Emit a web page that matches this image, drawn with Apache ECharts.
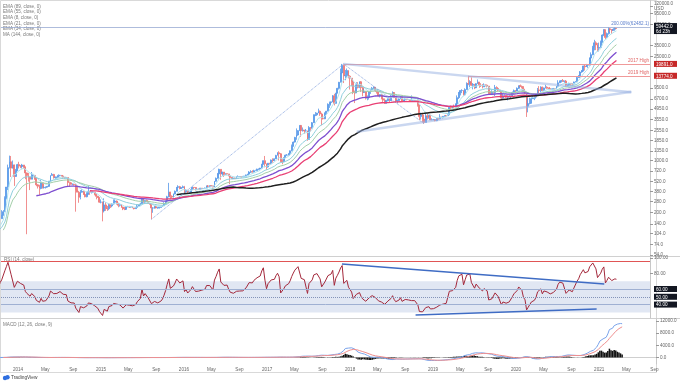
<!DOCTYPE html>
<html><head><meta charset="utf-8">
<script src="https://cdn.jsdelivr.net/npm/echarts@6/dist/echarts.min.js"></script>
<style>html,body{margin:0;padding:0;background:#fff}#c{width:680px;height:383px}</style>
</head><body><div id="c"></div>
<script>
// ---------------- DATA (weekly candles, BTCUSD, weeks starting Monday) ----------------
const firstWeek = '2013-03-11';
const firstOpen = 46;
const weeklyClose = [
47,71,93,162,90,127,134,115,115,122,133,122,100,100,103,94,70,95,90,95,104,104,100,110,130,122,126,123,127,122,133,165,187,205,310,440,800,960,790,870,610,735,880,
840,830,870,820,680,630,600,560,630,630,565,470,450,420,500,430,435,440,448,525,630,650,590,595,595,630,630,620,595,585,590,505,500,478,480,475,400,375,320,375,385,350,325,355,385,375,375,375,350,330,318,275,
275,210,253,226,225,258,245,260,275,285,265,250,255,236,223,220,240,240,236,240,230,225,233,245,250,260,310,275,290,281,265,260,230,230,240,230,231,234,238,246,262,285,325,375,330,322,355,385,435,445,420,430,
445,380,400,375,375,405,436,433,405,413,410,425,420,420,427,455,450,458,456,440,525,575,660,760,660,700,650,665,660,620,590,570,580,570,605,607,608,600,612,616,640,655,700,703,700,730,732,765,770,790,890,995,
905,820,920,915,1015,998,1055,1170,1270,1230,975,965,1090,1180,1180,1245,1350,1550,1770,2040,2200,2520,2960,2520,2560,2500,2500,1920,2770,2750,3220,4070,4110,4340,4590,4220,3680,3630,4390,4600,5700,6000,6150,7390,5860,8050,9330,11250,15050,19000,13800,13880,
16200,13600,12800,11500,8200,8080,10400,9600,11450,9550,8200,8450,6900,7030,8350,8900,9400,9650,8700,8500,7350,7700,6770,6480,5880,6350,6760,6350,7400,8200,7030,6300,6400,6700,7300,6250,6500,6700,6620,6590,6300,6400,6400,6400,6350,5600,3900,4100,3600,3250,3980,3850,4040,
3510,3530,3550,3430,3650,3620,3850,3820,3920,4000,3990,4100,5200,5070,5300,5220,5750,7000,8200,8730,8740,7640,8990,10850,10800,11480,10250,10600,9500,10800,11300,10300,10130,9760,10390,10300,10000,8070,7870,8280,8230,9550,9300,8800,8500,6900,7420,7510,7100,7150,7310,7350,
8180,8700,8600,9340,10150,9900,9670,8530,8040,5360,5830,5880,6780,6900,7120,7700,8900,8730,9670,8720,9450,9680,9340,9300,9000,9070,9270,9170,9930,11070,11680,11850,11650,11700,10250,10330,10920,10770,10670,11370,11370,13030,13800,15480,15970,18680,18180,19150,19150,23870,26500,33000,
38200,35800,32300,33100,38900,48700,57500,45200,50900,59000,57600,55800,58200,59800,59442
];
const weeklyHigh = [
48,75,95,165,266,130,160,145,125,125,135,138,124,110,112,106,94,100,100,98,108,108,110,124,131,138,132,130,130,130,136,167,215,215,330,440,880,1163,1150,1000,880,770,900,
960,870,900,870,830,690,680,600,700,650,630,590,480,470,550,510,450,445,455,530,630,680,660,610,605,650,640,630,625,600,595,590,520,515,490,480,480,440,390,400,410,390,360,375,460,390,385,385,375,355,335,320,
300,280,310,275,245,265,250,265,300,300,290,270,265,260,240,237,242,245,245,242,240,230,235,255,255,270,315,300,295,298,285,270,260,235,245,245,235,238,240,248,275,290,335,500,380,340,360,395,440,465,455,440,
460,455,410,395,380,408,445,440,440,420,420,428,425,425,432,460,467,460,465,458,530,590,680,775,760,705,700,675,670,660,620,600,585,590,615,630,612,610,615,620,645,660,720,740,740,750,750,775,775,795,900,1000,
1150,910,925,925,1030,1070,1060,1190,1295,1330,1260,1060,1100,1200,1220,1250,1360,1640,1800,2080,2700,2560,2980,2980,2780,2580,2650,2520,2900,2800,3290,4180,4480,4370,4980,4700,4390,4130,4400,4640,5860,6200,6200,7600,7880,8100,9480,11400,17200,19891,19200,16500,
17250,16300,14000,12200,11800,8700,11300,11300,11600,11700,9900,9180,8500,7500,8500,9000,9750,9950,9700,8880,8400,7770,7750,6920,6830,6550,6800,6800,7580,8500,8250,7150,6600,6900,7350,7400,6600,6800,6700,6680,6700,7500,6500,6500,6500,6420,5600,4400,4200,3600,4300,4200,4100,
4100,3700,3620,3520,3700,3680,4200,3900,3950,4050,4080,4150,5350,5470,5370,5650,5850,7500,8350,8800,9070,8800,9350,11250,13774,12000,13100,11000,10600,10900,12300,11400,10950,10640,10900,10500,10300,10050,8550,8800,8410,10370,9950,9500,8800,8500,7800,7730,7500,7500,7670,7500,
8460,9000,8740,9600,10160,10500,10200,9980,9200,8170,6900,6980,7050,7470,7300,7770,9450,10000,9950,9850,9590,10400,9960,9600,9750,9310,9450,9300,10040,12000,11900,12100,12450,11800,12080,10600,11100,10950,10950,11480,11740,13350,14100,15950,16480,18800,19480,19890,19400,24250,28400,34800,
41950,40100,37850,38500,40950,49700,58350,57500,52600,61780,60600,58400,60100,61300,60100
];
const weeklyLow = [
44,46,70,92,50,65,120,80,108,110,120,118,93,95,98,88,65,68,85,86,93,100,96,99,110,110,120,120,120,105,120,133,165,180,205,300,400,780,600,780,455,600,720,
780,790,780,780,560,102,520,400,560,600,550,450,420,340,410,420,420,420,435,440,520,630,570,560,560,590,610,610,590,570,575,440,440,475,465,460,205,375,270,300,370,345,320,320,345,345,360,365,340,300,315,270,
265,152,200,210,210,215,230,235,255,275,255,235,240,230,215,215,218,235,230,232,228,220,225,230,240,250,260,270,270,280,260,255,162,198,225,228,225,226,235,237,245,260,280,320,290,310,315,350,385,430,410,415,
425,360,370,365,365,370,400,405,395,400,405,405,410,415,420,425,440,440,448,435,440,520,570,660,550,620,600,640,645,615,480,565,565,565,568,600,600,590,598,605,610,630,650,680,690,690,720,725,750,765,785,880,
810,750,800,880,910,935,990,1045,1170,1000,940,890,950,1080,1160,1180,1245,1330,1540,1740,1900,2150,2500,2080,2450,2280,2450,1840,1900,2460,2680,3200,3950,3980,4330,3980,2980,3560,3600,4200,4600,5100,5470,6100,5500,5900,8000,9000,11250,15000,11000,12000,
12800,12700,9000,10000,7800,5920,8100,9300,9400,8350,7300,8200,6600,6450,6600,7860,8700,9100,8350,7940,7230,7050,6650,6120,5750,5790,6250,6080,6320,7350,6900,5970,5880,6250,6650,6150,6150,6100,6450,6450,6150,6350,6350,6300,6280,5300,3500,3550,3250,3122,3250,3550,3650,
3480,3480,3470,3370,3380,3560,3600,3750,3680,3850,3900,3960,4100,4950,5020,5050,5180,5700,6700,7500,8050,7450,7540,8980,10300,9650,10100,9050,9100,9400,11000,9480,9750,9320,9780,9900,9600,7710,7770,7790,7900,7300,8980,8600,8330,6550,6800,7250,7000,6430,7100,6860,
7350,8100,8300,8570,9150,9720,9300,8400,7900,3850,4440,5670,5850,6780,6480,6800,7670,8100,8200,8700,8630,9300,9240,9170,8850,8950,9060,9000,9100,9900,11000,11200,11400,11100,9850,9880,10200,10140,10400,10540,11200,11400,12900,13200,15100,15780,16200,18100,17600,19000,21800,26000,
30300,30500,28800,29250,33400,37950,47000,43000,45000,49300,53300,50400,55800,55500,59300
];

// axis tick labels
const priceTickValues = [120000,95000,67000,35000,25000,9500,6700,4950,3550,2550,1850,1350,1000,720,520,380,280,200,140,104,74,54];
const lastPrice = 59442.0;
const lastCountdown = '6d 23h';
const high2017 = 19891.0;
const high2019 = 13774.0;
const fibLevel = 62482.1;
const rsiTickValues = [100, 80];
const rsiLevels = [60, 50, 40];
const macdTickValues = [0, 4000, 8000, 12000];
const xTickDates = ['2014-01-01','2014-05-01','2014-09-01','2015-01-01','2015-05-01','2015-09-01','2016-01-01','2016-05-01','2016-09-01','2017-01-01','2017-05-01','2017-09-01','2018-01-01','2018-05-01','2018-09-01','2019-01-01','2019-05-01','2019-09-01','2020-01-01','2020-05-01','2020-09-01','2021-01-01','2021-05-01','2021-09-01'];
const xTickLabels = ['2014','May','Sep','2015','May','Sep','2016','May','Sep','2017','May','Sep','2018','May','Sep','2019','May','Sep','2020','May','Sep','2021','May','Sep'];

// drawings (anchor dates / values)
const fibPoints = [['2015-08-17', 162], ['2017-12-17', 19891], ['2018-12-10', 3122]];
const wedgeUpper = [['2017-12-17', 19891], ['2021-06-17', 8264]];
const wedgeLower = [['2018-02-14', 2439], ['2021-06-17', 8390]];
const high2017Start = '2017-12-17';
const high2019Start = '2019-06-26';
const rsiTopLine = 95.5;
const rsiDownTrend = [['2017-12-10', 92], ['2021-02-17', 66.4]];
const rsiUpTrend = [['2018-11-02', 26.7], ['2021-01-14', 34.4]];
const legendNames = ['EMA (89, close, 0)','EMA (55, close, 0)','EMA (8, close, 0)','EMA (21, close, 0)','EMA (34, close, 0)','MA (144, close, 0)'];

// ---------------- BUILD ----------------
const ts = s => new Date(s + 'T00:00:00').getTime();
const tMin = ts('2013-10-18'), tMax = ts('2021-09-08');
const t0 = ts(firstWeek);
const N = weeklyClose.length;
const times = [], opens = [], highs = [], lows = [];
for (let i = 0; i < N; i++) {
  times.push(t0 + i * 7 * 86400000);
  const o = i === 0 ? firstOpen : weeklyClose[i - 1];
  opens.push(o);
  highs.push(Math.max(weeklyHigh[i], o, weeklyClose[i]));
  lows.push(Math.min(weeklyLow[i], o, weeklyClose[i]));
}
function ema(src, len) {
  const out = new Array(src.length).fill(null);
  let start = src.findIndex(v => v != null);
  let prev = null, sum = 0;
  for (let i = start; i < src.length; i++) {
    const k = i - start;
    if (k < len - 1) { sum += src[i]; continue; }
    if (k === len - 1) { sum += src[i]; prev = sum / len; out[i] = prev; continue; }
    prev = (src[i] - prev) * 2 / (len + 1) + prev; out[i] = prev;
  }
  return out;
}
function sma(src, len) {
  const out = new Array(src.length).fill(null);
  for (let i = len - 1; i < src.length; i++) { let s = 0; for (let j = i - len + 1; j <= i; j++) s += src[j]; out[i] = s / len; }
  return out;
}
function rsi(src, len) {
  const out = new Array(src.length).fill(null);
  let up = 0, dn = 0;
  for (let i = 1; i < src.length; i++) {
    const ch = src[i] - src[i - 1];
    const u = Math.max(ch, 0), d = Math.max(-ch, 0);
    if (i < len) { up += u; dn += d; continue; }
    if (i === len) { up = (up + u) / len; dn = (dn + d) / len; }
    else { up = (up * (len - 1) + u) / len; dn = (dn * (len - 1) + d) / len; }
    out[i] = dn === 0 ? 100 : 100 - 100 / (1 + up / dn);
  }
  return out;
}
const toLine = arr => arr.map((v, i) => v == null ? null : [times[i], v]).filter(Boolean);
const ema8 = ema(weeklyClose, 8), ema21 = ema(weeklyClose, 21), ema34 = ema(weeklyClose, 34);
const ema55 = ema(weeklyClose, 55), ema89 = ema(weeklyClose, 89), ma144 = sma(weeklyClose, 144);
const rsi14 = rsi(weeklyClose, 14);
const e12 = ema(weeklyClose, 12), e26 = ema(weeklyClose, 26);
const macd = e12.map((v, i) => (v == null || e26[i] == null) ? null : v - e26[i]);
const signal = ema(macd, 9);
const hist = macd.map((v, i) => (v == null || signal[i] == null) ? null : v - signal[i]);

const candles = times.map((t, i) => [t, opens[i], weeklyClose[i], lows[i], highs[i]]);
const FONT = 'Liberation Sans';
const FS = 4.6;
const xTickTimes = xTickDates.map(ts);

const pt = p => ({ coord: [ts(p[0]), p[1]] });
const seg = (a, b, style, label) => [Object.assign(pt(a), { lineStyle: style, label: label || { show: false } }), pt(b)];

const triStyle = { color: 'rgba(150,175,225,0.5)', width: 2.4, type: 'solid' };
const fibStyle = { color: '#7e9ddb', width: 0.9, type: 'dotted' };
const highStyle = { color: '#f09a9a', width: 1, type: 'solid' };
const smallLbl = (txt, color) => ({ show: true, position: 'insideEndTop', formatter: txt, color: color, fontSize: FS, fontFamily: FONT, distance: [1, 1] });

const boxW = 20;
const rich = {
  k: { backgroundColor: '#131722', color: '#fff', fontSize: FS, fontFamily: FONT, padding: [1, 1, 0, 2], width: boxW, lineHeight: 5 },
  r: { backgroundColor: '#c62828', color: '#fff', fontSize: FS, fontFamily: FONT, padding: [1, 1, 0, 2], width: boxW, lineHeight: 5 },
  n: { color: '#666', fontSize: FS, fontFamily: FONT, lineHeight: 5 }
};
const priceLabelValues = priceTickValues.concat([lastPrice, high2017, high2019]);
function priceFmt(v) {
  if (Math.abs(v - lastPrice) < 1) return '{k|' + lastPrice.toFixed(1) + '}\n{k|' + lastCountdown + '}';
  if (Math.abs(v - high2017) < 1) return '{r|' + high2017.toFixed(1) + '}';
  if (Math.abs(v - high2019) < 1) return '{r|' + high2019.toFixed(1) + '}';
  if (Math.abs(v - 120000) < 1) return '{n|120000.0}\n{n|USD}';
  return '{n|' + v.toFixed(1) + '}';
}

const axisCommon = {
  position: 'right', splitLine: { show: false },
  axisLine: { show: true, lineStyle: { color: '#c8c8c8', width: 1 } },
};

const option = {
  animation: false,
  backgroundColor: '#fff',
  grid: [
    { left: 1, right: 24, top: 0, height: 256 },
    { left: 1, right: 24, top: 256, height: 62 },
    { left: 1, right: 24, top: 319, height: 45 }
  ],
  xAxis: [0, 1, 2].map(g => ({
    type: 'value', gridIndex: g, min: tMin, max: tMax, show: g === 2, scale: true,
    splitLine: { show: false },
    axisLine: { show: true, lineStyle: { color: '#cfcfcf' } },
    axisTick: { show: false },
    axisLabel: {
      customValues: xTickTimes, color: '#666', fontSize: FS, fontFamily: FONT, margin: 3,
      formatter: v => { const i = xTickTimes.findIndex(t => Math.abs(t - v) < 86400000); return i >= 0 ? xTickLabels[i] : ''; }
    }
  })),
  yAxis: [
    Object.assign({}, axisCommon, {
      type: 'log', logBase: 10, gridIndex: 0, min: 51.96, max: 143900,
      axisTick: { show: true, length: 3, customValues: priceTickValues, lineStyle: { color: '#999' } },
      axisLabel: { customValues: priceLabelValues, formatter: priceFmt, rich: rich, margin: 4, fontSize: FS, color: '#666' }
    }),
    Object.assign({}, axisCommon, {
      type: 'value', gridIndex: 1, min: 22.8, max: 102.3,
      axisTick: { show: true, length: 3, customValues: rsiTickValues, lineStyle: { color: '#999' } },
      axisLabel: {
        customValues: rsiTickValues.concat(rsiLevels), margin: 4, rich: rich, fontSize: FS, color: '#666',
        formatter: v => rsiLevels.indexOf(v) >= 0 ? '{k|' + v.toFixed(2) + '}' : '{n|' + v.toFixed(2) + '}'
      }
    }),
    Object.assign({}, axisCommon, {
      type: 'value', gridIndex: 2, min: -2130, max: 12620,
      axisTick: { show: true, length: 3, customValues: macdTickValues, lineStyle: { color: '#999' } },
      axisLabel: { customValues: macdTickValues, margin: 4, rich: rich, formatter: v => '{n|' + v.toFixed(1) + '}' }
    })
  ],
  series: [
    {
      type: 'candlestick', xAxisIndex: 0, yAxisIndex: 0, data: candles,
      encode: { x: 0, y: [1, 2, 3, 4] }, barWidth: 1.4,
      itemStyle: { color: '#5597e8', color0: '#ee7474', borderColor: '#5597e8', borderColor0: '#ee7474', borderWidth: 0.8 },
      markLine: {
        silent: true, symbol: ['none', 'none'], animation: false,
        data: [
          { yAxis: fibLevel, lineStyle: { color: 'rgba(140,160,205,0.7)', width: 1, type: 'solid' }, label: smallLbl('200.00%(' + fibLevel.toFixed(1) + ')', '#5b7fcc') },
          seg([high2017Start, high2017], ['2021-09-08', high2017], highStyle, smallLbl('2017 High', '#e06666')),
          seg([high2019Start, high2019], ['2021-09-08', high2019], highStyle, smallLbl('2019 High', '#e06666')),
          seg(fibPoints[0], fibPoints[1], fibStyle),
          seg(fibPoints[1], fibPoints[2], fibStyle),
          seg(wedgeUpper[0], wedgeUpper[1], triStyle),
          seg(wedgeLower[0], wedgeLower[1], triStyle)
        ]
      }
    },
    { type: 'line', xAxisIndex: 0, yAxisIndex: 0, data: toLine(ema8), showSymbol: false, lineStyle: { color: '#b0e4ee', width: 1 }, silent: true },
    { type: 'line', xAxisIndex: 0, yAxisIndex: 0, data: toLine(ema21), showSymbol: false, lineStyle: { color: '#8fcfdc', width: 1 }, silent: true },
    { type: 'line', xAxisIndex: 0, yAxisIndex: 0, data: toLine(ema34), showSymbol: false, lineStyle: { color: '#a3cfa9', width: 1 }, silent: true },
    { type: 'line', xAxisIndex: 0, yAxisIndex: 0, data: toLine(ema55), showSymbol: false, lineStyle: { color: '#7e4fd0', width: 1.3 }, silent: true },
    { type: 'line', xAxisIndex: 0, yAxisIndex: 0, data: toLine(ema89), showSymbol: false, lineStyle: { color: '#e93f74', width: 1.3 }, silent: true },
    { type: 'line', xAxisIndex: 0, yAxisIndex: 0, data: toLine(ma144), showSymbol: false, lineStyle: { color: '#1f1f1f', width: 1.5 }, silent: true },
    {
      type: 'line', xAxisIndex: 1, yAxisIndex: 1, data: toLine(rsi14), showSymbol: false,
      lineStyle: { color: '#a3283b', width: 1 }, silent: true,
      markArea: { silent: true, itemStyle: { color: 'rgba(120,145,200,0.22)' }, data: [[{ yAxis: 30 }, { yAxis: 70 }]] },
      markLine: {
        silent: true, symbol: ['none', 'none'], animation: false, label: { show: false },
        data: [
          { yAxis: rsiTopLine, lineStyle: { color: '#e05555', width: 1.2, type: 'solid' } },
          { yAxis: 60, lineStyle: { color: '#9fb0d2', width: 1, type: 'solid' } },
          { yAxis: 50, lineStyle: { color: '#8393b8', width: 1, type: 'dotted' } },
          { yAxis: 40, lineStyle: { color: '#9fb0d2', width: 1, type: 'solid' } },
          seg(rsiDownTrend[0], rsiDownTrend[1], { color: '#3f6cc4', width: 1.5, type: 'solid' }),
          seg(rsiUpTrend[0], rsiUpTrend[1], { color: '#3f6cc4', width: 1.5, type: 'solid' })
        ]
      }
    },
    { type: 'bar', xAxisIndex: 2, yAxisIndex: 2, data: toLine(hist), barWidth: 1.5, itemStyle: { color: '#111' }, silent: true },
    { type: 'line', xAxisIndex: 2, yAxisIndex: 2, data: toLine(macd), showSymbol: false, lineStyle: { color: '#7aa3ea', width: 1 }, silent: true },
    { type: 'line', xAxisIndex: 2, yAxisIndex: 2, data: toLine(signal), showSymbol: false, lineStyle: { color: '#ef8f8f', width: 1 }, silent: true }
  ],
  graphic: [
    { type: 'rect', shape: { x: 0.5, y: 0.5, width: 656, height: 372 }, style: { fill: 'none', stroke: '#d9d9d9', lineWidth: 1 }, silent: true, z: 0 },
    { type: 'line', shape: { x1: 0, y1: 256.5, x2: 680, y2: 256.5 }, style: { stroke: '#d0d0d0', lineWidth: 1 }, silent: true },
    { type: 'line', shape: { x1: 0, y1: 318.5, x2: 680, y2: 318.5 }, style: { stroke: '#d0d0d0', lineWidth: 1 }, silent: true }
  ].concat(legendNames.map((t, i) => ({
    type: 'text', x: 3, y: 6.5 + i * 5.6, silent: true,
    style: { text: t, fill: '#7a7a7a', fontSize: FS, fontFamily: FONT, verticalAlign: 'middle' }
  }))).concat([
    { type: 'text', x: 4, y: 259.5, silent: true, style: { text: 'RSI (14, close)', fill: '#7a7a7a', fontSize: FS, fontFamily: FONT, verticalAlign: 'middle' } },
    { type: 'text', x: 3, y: 325, silent: true, style: { text: 'MACD (12, 26, close, 9)', fill: '#7a7a7a', fontSize: FS, fontFamily: FONT, verticalAlign: 'middle' } },
    { type: 'circle', shape: { cx: 5, cy: 378, r: 2.2 }, style: { fill: '#2f6fe0' }, silent: true },
    { type: 'circle', shape: { cx: 7.5, cy: 377.2, r: 2.2 }, style: { fill: '#2f6fe0' }, silent: true },
    { type: 'text', x: 11, y: 378, silent: true, style: { text: 'TradingView', fill: '#444', fontSize: 4.8, fontFamily: FONT, verticalAlign: 'middle' } }
  ])
};
const chart = echarts.init(document.getElementById('c'), null, { renderer: 'canvas' });
chart.setOption(option);
</script>
</body></html>
